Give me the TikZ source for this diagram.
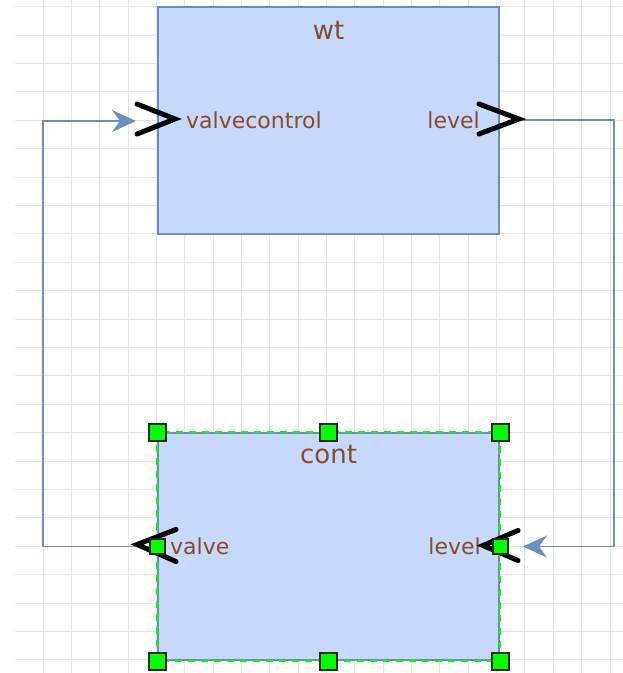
\documentclass[tikz,border=0pt]{standalone}
\usepackage{fontspec}
\setmainfont{DejaVu Sans}
\usetikzlibrary{arrows.meta}
\definecolor{boxfill}{RGB}{198,217,252}
\definecolor{boxline}{RGB}{108,142,191}
\definecolor{labeltext}{RGB}{135,75,40}
\definecolor{handlegreen}{RGB}{0,255,0}
\definecolor{gridgray}{RGB}{228,228,228}
\tikzset{
  block/.style={draw=boxline, fill=boxfill, line width=2pt, minimum width=341pt, minimum height=227pt, inner sep=0pt},
  title/.style={text=labeltext, font=\fontsize{26}{30}\selectfont, inner sep=0pt},
  portlabel/.style={text=labeltext, font=\fontsize{22}{26}\selectfont, inner sep=0pt},
  wire/.style={draw=boxline, line width=1.5pt},
  flowtip/.style={-{Stealth[length=24pt,width=22pt,inset=8pt]}},
  chevron/.style={black, line width=5pt, line cap=round, line join=miter},
  handle/.style={fill=handlegreen, draw=black!85, line width=2pt, minimum size=#1, inner sep=0pt},
  handle/.default=17pt,
}
\begin{document}
\begin{tikzpicture}[x=1pt, y=-1pt]
        \useasboundingbox (0,0) rectangle (623,673);
        
        % Griglia
        \foreach \i in {1,...,21}
            \draw[gridgray, line width=1pt] ({14.65+28.35*\i},0) -- ({14.65+28.35*\i},673);
        \foreach \j in {0,...,23}
            \draw[gridgray, line width=1pt] (15,{6.7+28.4*\j}) -- (623,{6.7+28.4*\j});
        
        % Blocchi
        \node[block] (wt) at (328.5,120) {};
        \node[block] (cont) at (328.5,546.5) {};
        \draw[handlegreen, line width=2pt, dash pattern=on 7pt off 6pt] (cont.north west) rectangle (cont.south east);
        
        % Titoli ed etichette delle porte
        \node[title] (wt-name) at ([yshift=-25pt]wt.north) {wt};
        \node[title] (cont-name) at ([yshift=-23pt]cont.north) {cont};
        \node[portlabel, anchor=west] (wt-valvecontrol) at ([xshift=29pt]wt.west) {valvecontrol};
        \node[portlabel, anchor=east] (wt-level) at ([xshift=-20pt]wt.east) {level};
        \node[portlabel, anchor=west] (cont-valve) at ([xshift=13pt]cont.west) {valve};
        \node[portlabel, anchor=east] (cont-level) at ([xshift=-19pt]cont.east) {level};
        
        % Porte
        \coordinate (wt-in) at ([xshift=-21pt,yshift=-1pt]wt.west);
        \coordinate (wt-out) at ([xshift=19pt]wt.east);
        \coordinate (cont-in) at ([xshift=23pt]cont.east);
        \coordinate (cont-out) at ([xshift=-20pt]cont.west);
        
        % Collegamenti
        \draw[wire, flowtip] (wt-out) -- ++(95,0) |- (cont-in);
        \draw[wire, flowtip] (cont-out) -- ++(-94,0) |- (wt-in);
        
        % Connettori (frecce nere)
        \draw[chevron] (wt.west) ++(-20,-16) -- ++(38,15) -- ++(-38,15);
        \draw[chevron] (wt.east) ++(-21,-16) -- ++(40,15) -- ++(-40,15);
        \draw[chevron] (cont.west) ++(19,-17) -- ++(-39,15) -- ++(39,17);
        \draw[chevron] (cont.east) ++(18,-16) -- ++(-35,15) -- ++(35,15);
        
        % Maniglie di selezione
        \foreach \a/\n in {north west/nw, north/n, north east/ne, south west/sw, south/s, south east/se}
            \node[handle] (h-\n) at (cont.\a) {};
        \node[handle=15pt] (h-w) at (cont.west) {};
        \node[handle=15pt] (h-e) at (cont.east) {};
        
    \end{tikzpicture}
\end{document}
